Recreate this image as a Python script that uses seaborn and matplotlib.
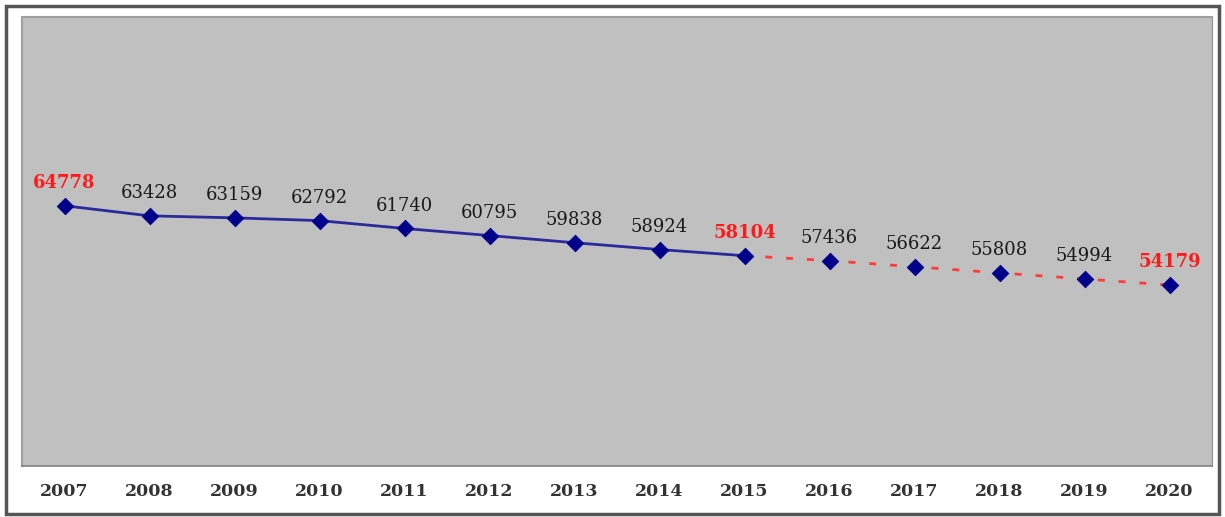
import matplotlib
matplotlib.use("Agg")
import matplotlib.pyplot as plt
import seaborn as sns
import pandas as pd
from matplotlib.patches import Rectangle

years = [2007, 2008, 2009, 2010, 2011, 2012, 2013, 2014, 2015, 2016, 2017, 2018, 2019, 2020]
values = [64778, 63428, 63159, 62792, 61740, 60795, 59838, 58924, 58104, 57436, 56622, 55808, 54994, 54179]
highlight = [2007, 2015, 2020]   # red bold labels
last_actual = 2015

df = pd.DataFrame({"year": [str(y) for y in years], "value": values})
df["pos"] = range(len(df))
split = years.index(last_actual)
actual = df.iloc[:split + 1]
forecast = df.iloc[split:]

sns.set_style("white")
plt.rcParams["font.family"] = ["DejaVu Serif"]

fig = plt.figure(figsize=(12.25, 5.17), dpi=100)
ax = fig.add_axes([22 / 1225, 1 - 466 / 517, 1190 / 1225, 449 / 517])
ax.set_facecolor("#c0c0c0")

sns.lineplot(data=forecast, x="pos", y="value", ax=ax, color="#ff3b3b",
             linestyle=(0, (2.5, 5)), linewidth=2)
sns.lineplot(data=actual, x="pos", y="value", ax=ax, color="#2a2a9a", linewidth=2)
sns.scatterplot(data=df, x="pos", y="value", ax=ax, marker="D", s=70,
                color="#00008b", edgecolor="#00008b", zorder=5)

for _, r in df.iterrows():
    red = int(r["year"]) in highlight
    ax.annotate(f"{r['value']}", (r["pos"], r["value"]), xytext=(0, 10),
                textcoords="offset points", ha="center", va="bottom",
                fontsize=13, color="#ff1a1a" if red else "#1a1a1a",
                fontweight="bold" if red else "normal")

ax.set_xlim(-0.5, len(years) - 0.5)
ax.set_ylim(30000, 90000)
ax.set_xticks(df["pos"])
ax.set_xticklabels(df["year"], fontsize=12.5, fontweight="bold", color="#333333")
ax.set_xticks([i - 0.5 for i in range(len(years) + 1)], minor=True)
ax.tick_params(axis="x", which="major", length=0, pad=12)
ax.tick_params(axis="x", which="minor", length=6, color="#808080", width=1.2, direction="out")
ax.set_yticks([])
ax.set_xlabel("")
ax.set_ylabel("")
for side in ["top", "left"]:
    ax.spines[side].set_color("#a0a0a0")
    ax.spines[side].set_linewidth(1.5)
ax.spines["right"].set_color("#909090")
ax.spines["bottom"].set_color("#808080")
ax.spines["bottom"].set_linewidth(1.2)

# outer frame
fig.patches.append(Rectangle((6 / 1225, 3 / 517), 1213 / 1225, 508 / 517,
                             transform=fig.transFigure, fill=False,
                             edgecolor="#555555", linewidth=2.5))

fig.savefig("out.png", dpi=100)
